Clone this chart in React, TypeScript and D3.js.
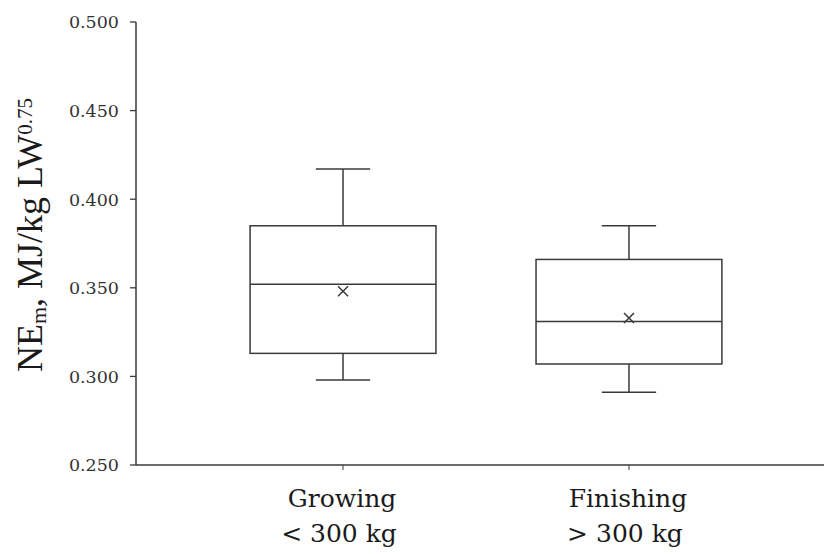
import React from "react";
import * as d3 from "d3";

const categories = ["Growing", "Finishing"];
const subLabels = ["< 300 kg", "> 300 kg"];
const whiskerLow = [0.298, 0.291];
const q1 = [0.313, 0.307];
const median = [0.352, 0.331];
const q3 = [0.385, 0.366];
const whiskerHigh = [0.417, 0.385];
const means = [0.348, 0.333];
const yTicks = [0.25, 0.3, 0.35, 0.4, 0.45, 0.5];

const W = 824;
const H = 554;
const left = 136;
const top = 22;
const bottom = 465;

const App = () => {
  const y = d3.scaleLinear().domain([0.25, 0.5]).range([bottom, top]);
  const x = d3.scalePoint().domain(categories).range([left, left + 700]).padding(0.724);
  const step = x.step();
  const boxW = step * 0.65;
  const capW = step * 0.19;
  const stroke = "#3a3a3a";
  const serif = "DejaVu Serif";
  const titleFont = "Liberation Serif";

  return (
    <svg width={W} height={H} style={{ position: "absolute", left: 0, top: 0, background: "#fff" }}>
      {/* y axis */}
      <line x1={left} x2={left} y1={top} y2={bottom} stroke={stroke} strokeWidth={1.5} />
      {yTicks.map((t) => (
        <g key={t}>
          <line x1={left - 6} x2={left} y1={y(t)} y2={y(t)} stroke={stroke} strokeWidth={1.3} />
          <text
            x={left - 17}
            y={y(t)}
            dy="0.36em"
            textAnchor="end"
            fontFamily={serif}
            fontSize={17.5}
            fill="#333"
          >
            {d3.format(".3f")(t)}
          </text>
        </g>
      ))}

      {/* x axis */}
      <line x1={left} x2={W} y1={bottom} y2={bottom} stroke={stroke} strokeWidth={1.5} />
      {categories.map((c, i) => {
        const cx = x(c) as number;
        return (
          <g key={c}>
            <line x1={cx} x2={cx} y1={bottom} y2={bottom + 5} stroke={stroke} strokeWidth={1} />
            <text x={cx - 1} y={507} textAnchor="middle" fontFamily={serif} fontSize={25} fill="#1a1a1a">
              {c}
            </text>
            <text x={cx - 4} y={542} textAnchor="middle" fontFamily={serif} fontSize={25} fill="#1a1a1a">
              {subLabels[i]}
            </text>
          </g>
        );
      })}

      {/* boxes */}
      {categories.map((c, i) => {
        const cx = x(c) as number;
        const m = 5;
        const my = y(means[i]);
        return (
          <g key={c} stroke={stroke} strokeWidth={1.5} fill="none">
            <line x1={cx} x2={cx} y1={y(whiskerHigh[i])} y2={y(q3[i])} />
            <line x1={cx} x2={cx} y1={y(q1[i])} y2={y(whiskerLow[i])} />
            <line x1={cx - capW / 2} x2={cx + capW / 2} y1={y(whiskerHigh[i])} y2={y(whiskerHigh[i])} />
            <line x1={cx - capW / 2} x2={cx + capW / 2} y1={y(whiskerLow[i])} y2={y(whiskerLow[i])} />
            <rect x={cx - boxW / 2} y={y(q3[i])} width={boxW} height={y(q1[i]) - y(q3[i])} />
            <line x1={cx - boxW / 2} x2={cx + boxW / 2} y1={y(median[i])} y2={y(median[i])} />
            <path d={`M${cx - m},${my - m}L${cx + m},${my + m}M${cx - m},${my + m}L${cx + m},${my - m}`} />
          </g>
        );
      })}

      {/* y label */}
      <text
        transform={`translate(42, 235) rotate(-90)`}
        textAnchor="middle"
        fontFamily={titleFont}
        fontSize={36}
        fill="#1a1a1a"
      >
        NE
        <tspan fontSize={22} dy={4}>m</tspan>
        <tspan dy={-4}>, MJ/kg LW</tspan>
        <tspan fontSize={21} dy={-10}>0.75</tspan>
      </text>
    </svg>
  );
};

export default App;
